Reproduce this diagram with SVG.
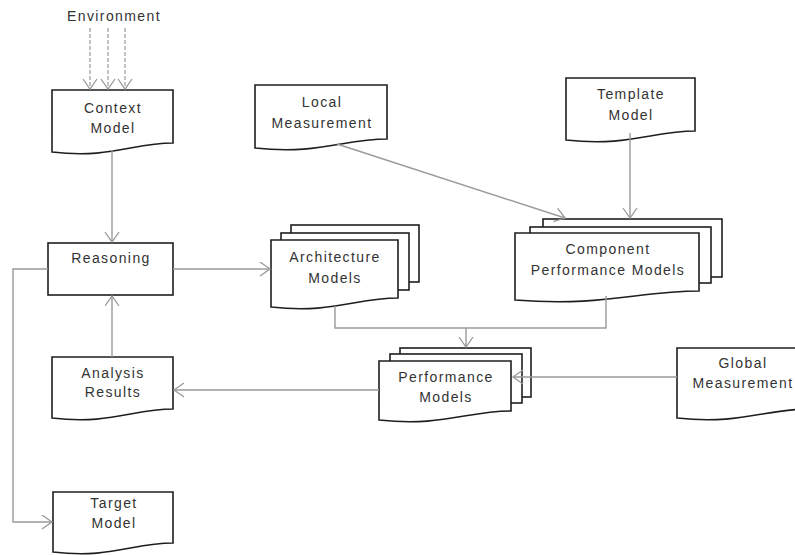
<svg xmlns="http://www.w3.org/2000/svg" width="795" height="555" viewBox="0 0 795 555">
<defs>
<marker id="arr" markerUnits="userSpaceOnUse" markerWidth="16" markerHeight="16" refX="11" refY="7.5" orient="auto">
<path d="M1,0.5 L11,7.5 L1,14.5" fill="none" stroke="#9a9a9a" stroke-width="1.3"/>
</marker>
</defs>
<style>
.box{fill:#fff;stroke:#1e1e1e;stroke-width:1.6}
.t{font-family:"Liberation Sans",Arial,sans-serif;font-size:14px;fill:#333;text-anchor:middle;letter-spacing:1.4px}
.c{fill:none;stroke:#9a9a9a;stroke-width:1.4}
.d{fill:none;stroke:#9a9a9a;stroke-width:1.2;stroke-dasharray:4 2}
</style>
<rect width="795" height="555" fill="#fff"/>
<g id="environment"><text class="t" x="114" y="21">Environment</text></g>
<g id="context-model">
<path class="box" d="M52,90 H173 V143 C133,143 110,159 52,152 Z"/>
<text class="t" x="113" y="113">Context</text><text class="t" x="113" y="133">Model</text>
</g>
<g id="local-measurement">
<path class="box" d="M255,85 H387 V139 C344,139 318,155 255,148 Z"/>
<text class="t" x="322" y="107">Local</text><text class="t" x="322" y="128">Measurement</text>
</g>
<g id="template-model">
<path class="box" d="M566,78 H695 V131 C653,131 628,147 566,140 Z"/>
<text class="t" x="631" y="99">Template</text><text class="t" x="631" y="120">Model</text>
</g>
<g id="reasoning">
<rect class="box" x="48" y="243" width="125" height="52"/>
<text class="t" x="111" y="263">Reasoning</text>
</g>
<g id="architecture-models">
<rect class="box" x="291" y="225" width="128" height="57"/>
<rect class="box" x="281" y="233" width="128" height="57"/>
<path class="box" d="M271,240 H398 V298 C356,298 332,314 271,307 Z"/>
<text class="t" x="335" y="262">Architecture</text><text class="t" x="335" y="283">Models</text>
</g>
<g id="component-performance-models">
<rect class="box" x="543" y="219" width="179" height="58"/>
<rect class="box" x="530" y="227" width="181" height="56"/>
<path class="box" d="M515,233 H699 V291 C639,291 603,307 515,300 Z"/>
<text class="t" x="608" y="254">Component</text><text class="t" x="608" y="275">Performance Models</text>
</g>
<g id="performance-models">
<rect class="box" x="400" y="348" width="131" height="49"/>
<rect class="box" x="390" y="354" width="132" height="49"/>
<path class="box" d="M379,361 H511 V411 C467,411 442,427 379,420 Z"/>
<text class="t" x="446" y="382">Performance</text><text class="t" x="446" y="402">Models</text>
</g>
<g id="global-measurement">
<path class="box" d="M677,348 H808 V409 C765,409 740,425 677,418 Z"/>
<text class="t" x="743" y="368">Global</text><text class="t" x="743" y="388">Measurement</text>
</g>
<g id="analysis-results">
<path class="box" d="M52,357 H173 V409 C133,409 110,425 52,418 Z"/>
<text class="t" x="113" y="378">Analysis</text><text class="t" x="113" y="397">Results</text>
</g>
<g id="target-model">
<path class="box" d="M53,492 H173 V543 C133,543 110,559 53,552 Z"/>
<text class="t" x="114" y="508">Target</text><text class="t" x="114" y="528">Model</text>
</g>
<g id="connectors">
<path class="d" d="M90,28 V89" marker-end="url(#arr)"/>
<path class="d" d="M108,28 V89" marker-end="url(#arr)"/>
<path class="d" d="M125,28 V89" marker-end="url(#arr)"/>
<path class="c" d="M112,150 V242" marker-end="url(#arr)"/>
<path class="c" d="M173,269 H270" marker-end="url(#arr)"/>
<path class="c" d="M112,357 V296" marker-end="url(#arr)"/>
<path class="c" d="M48,269 H13 V522 H52" marker-end="url(#arr)"/>
<path class="c" d="M337,144 L565,218" marker-end="url(#arr)"/>
<path class="c" d="M630,133 V218" marker-end="url(#arr)"/>
<path class="c" d="M335,306 V328 H606 V296"/>
<path class="c" d="M466,328 V347" marker-end="url(#arr)"/>
<path class="c" d="M677,377 H513" marker-end="url(#arr)"/>
<path class="c" d="M379,390 H174" marker-end="url(#arr)"/>
</g>
</svg>
